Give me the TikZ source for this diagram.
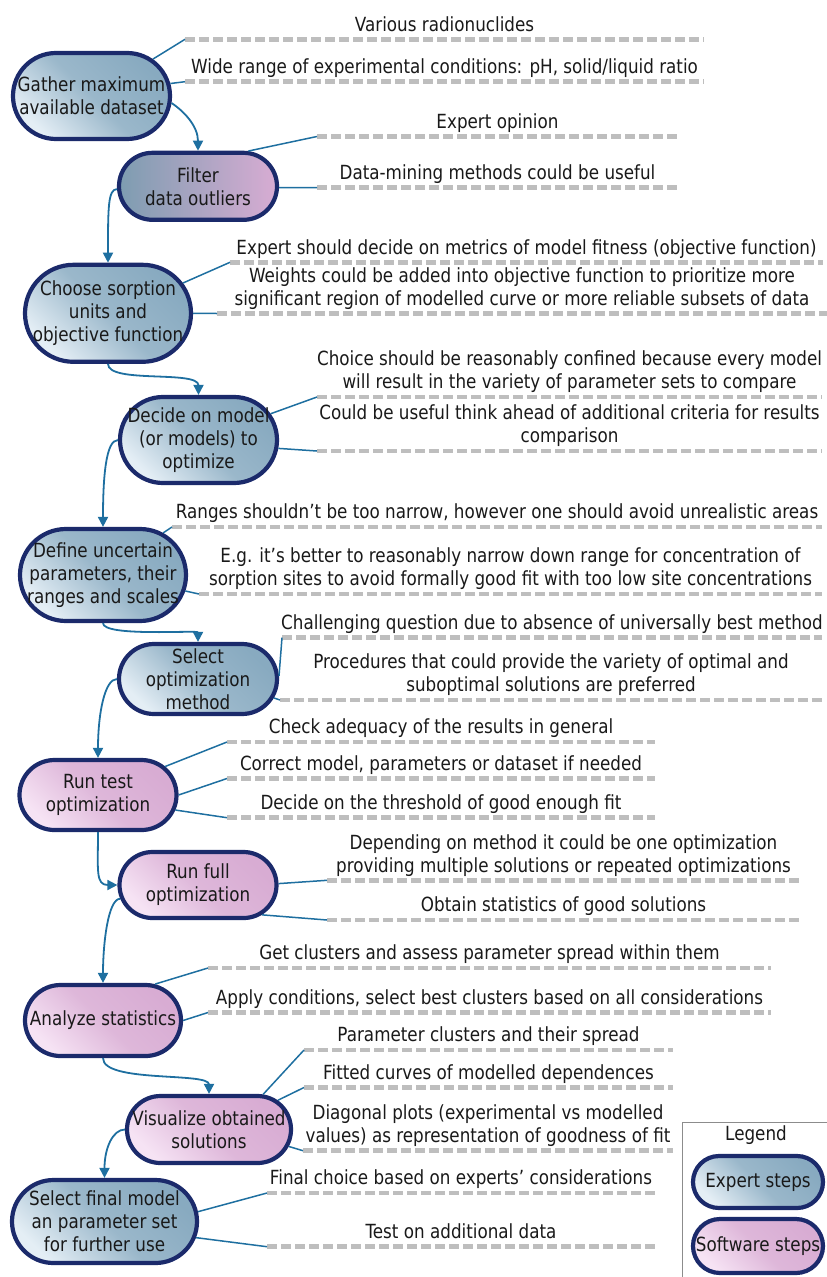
\documentclass[tikz,border=0pt]{standalone}
\usepackage{fontspec}
\setmainfont{DejaVu Sans}[FakeStretch=0.86]
\usetikzlibrary{shapes.misc,arrows.meta,calc}
\definecolor{navy}{HTML}{1B2A6B}
\definecolor{blueD}{HTML}{88AAC0}
\definecolor{blueL}{HTML}{E4EEF5}
\definecolor{pinkD}{HTML}{D8ACD3}
\definecolor{pinkL}{HTML}{F6E3F4}
\definecolor{flowc}{HTML}{1E6FA0}
\definecolor{dashgray}{HTML}{BEBEBE}
\definecolor{legendgray}{HTML}{8C8C8C}
\newcommand\noteline[5]{%
  \coordinate (#1a) at (#2,#4);
  \coordinate (#1b) at (#3,#4);
  \draw[dashline] (#1a) -- (#1b);
  \node[note] (#1t) at ($(#1a)!.5!(#1b)+(0,-8)$) {#5};
}
\begin{document}
\begin{tikzpicture}[x=1pt,y=-1pt,
  stepbox/.style={rounded rectangle, draw=navy, line width=4.2pt, inner sep=0pt},
  expert/.style={stepbox, top color=blueD, bottom color=blueL, middle color=blueD!80!blueL, shading angle=-45},
  software/.style={stepbox, top color=pinkD, bottom color=pinkL, middle color=pinkD!80!pinkL, shading angle=-45},
  mixed/.style={stepbox, left color=blueD!92!black, right color=pinkD},
  steptext/.style={align=center, inner sep=0pt, font=\fontsize{19.5}{23}\selectfont, text=black!90},
  note/.style={steptext, anchor=south, text depth=0pt},
  dashline/.style={draw=dashgray, line width=4.5pt, dash pattern=on 9.5pt off 4.5pt},
  conn/.style={draw=flowc, line width=1.5pt},
  flow/.style={draw=flowc, line width=1.8pt, -{Triangle[length=10pt,width=10pt]}}
]
\useasboundingbox (0,0) rectangle (827,1277);

% ---- step nodes ----
\node[expert, minimum width=157, minimum height=86] (n1) at (91.5,96) {};
\node[steptext] (n1t) at (n1.center) {Gather maximum\\available dataset};
\node[mixed, minimum width=158, minimum height=67] (n2) at (198,186.3) {};
\node[steptext] (n2t) at (n2.center) {Filter\\data outliers};
\node[expert, minimum width=166, minimum height=97] (n3) at (108,313.3) {};
\node[steptext] (n3t) at (n3.center) {Choose sorption\\units and\\objective function};
\node[expert, minimum width=157, minimum height=86] (n4) at (198.5,440) {};
\node[steptext] (n4t) at (n4.center) {Decide on model\\(or models) to\\optimize};
\node[expert, minimum width=166, minimum height=92] (n5) at (103,575) {};
\node[steptext] (n5t) at (n5.center) {Define uncertain\\parameters, their\\ranges and scales};
\node[expert, minimum width=158, minimum height=70] (n6) at (198,679) {};
\node[steptext] (n6t) at (n6.center) {Select\\optimization\\method};
\node[software, minimum width=157, minimum height=70] (n7) at (98,795) {};
\node[steptext] (n7t) at (n7.center) {Run test\\optimization};
\node[software, minimum width=157, minimum height=66] (n8) at (198,885) {};
\node[steptext] (n8t) at (n8.center) {Run full\\optimization};
\node[software, minimum width=156, minimum height=71] (n9) at (103,1020.5) {};
\node[steptext] (n9t) at (n9.center) {Analyze statistics};
\node[software, minimum width=164, minimum height=67] (n10) at (209,1129.5) {};
\node[steptext] (n10t) at (n10.center) {Visualize obtained\\solutions};
\node[expert, minimum width=185, minimum height=83] (n11) at (104.5,1221.5) {};
\node[steptext] (n11t) at (n11.center) {Select final model\\an parameter set\\for further use};

% ---- notes ----
\noteline{L1}{185}{704}{39.3}{Various radionuclides}
\noteline{L2}{185}{704}{81.7}{Wide range of experimental conditions: pH, solid/liquid ratio}
\noteline{L3}{317}{678}{136.5}{Expert opinion}
\noteline{L4}{317}{678}{187.7}{Data-mining methods could be useful}
\noteline{L5}{230}{823}{262.3}{Expert should decide on metrics of model fitness (objective function)}
\noteline{L6}{217}{827}{313.5}{Weights could be added into objective function to prioritize more\\significant region of modelled curve or more reliable subsets of data}
\noteline{L7}{317}{822}{397}{Choice should be reasonably confined because every model\\will result in the variety of parameter sets to compare}
\noteline{L8}{317}{822}{451}{Could be useful think ahead of additional criteria for results\\comparison}
\noteline{L9}{172}{822}{527}{Ranges shouldn’t be too narrow, however one should avoid unrealistic areas}
\noteline{L10}{199}{822}{594}{E.g. it’s better to reasonably narrow down range for concentration of\\sorption sites to avoid formally good fit with too low site concentrations}
\noteline{L11}{282}{822}{637.7}{Challenging question due to absence of universally best method}
\noteline{L12}{280}{822}{700}{Procedures that could provide the variety of optimal and\\suboptimal solutions are preferred}
\noteline{L13}{227}{655}{742}{Check adequacy of the results in general}
\noteline{L14}{227}{655}{778.5}{Correct model, parameters or dataset if needed}
\noteline{L15}{227}{655}{817.7}{Decide on the threshold of good enough fit}
\noteline{L16}{327}{800}{880.3}{Depending on method it could be one optimization\\providing multiple solutions or repeated optimizations}
\noteline{L17}{327}{800}{920}{Obtain statistics of good solutions}
\noteline{L18}{208}{771}{968}{Get clusters and assess parameter spread within them}
\noteline{L19}{208}{771}{1012.5}{Apply conditions, select best clusters based on all considerations}
\noteline{L20}{304}{673}{1050}{Parameter clusters and their spread}
\noteline{L21}{304}{673}{1087.5}{Fitted curves of modelled dependences}
\noteline{L22}{303}{673}{1150.7}{Diagonal plots (experimental vs modelled\\values) as representation of goodness of fit}
\noteline{L23}{267}{655}{1193}{Final choice based on experts’ considerations}
\noteline{L24}{267}{655}{1246.7}{Test on additional data}

% ---- connectors to notes ----
\draw[conn] (n1.31.5) -- (L1a);
\draw[conn] (n1.9) -- (L2a);
\draw[conn] (n2.35) -- (L3a);
\draw[conn] (n2.-1) -- (L4a);
\draw[conn] (n3.22) -- (L5a);
\draw[conn] (n3.0) -- (L6a);
\draw[conn] (n4.20) -- (L7a);
\draw[conn] (n4.-6) -- (L8a);
\draw[conn] (n5.35) -- (L9a);
\draw[conn] (n5.-11) -- (L10a);
\draw[conn] (n6.2) -- (L11a);
\draw[conn] (n6.-14) -- (L12a);
\draw[conn] (n7.23) -- (L13a);
\draw[conn] (n7.0) -- (L14a);
\draw[conn] (n7.-11) -- (L15a);
\draw[conn] (n8.1) -- (L16a);
\draw[conn] (n8.-25) -- (L17a);
\draw[conn] (n9.35) -- (L18a);
\draw[conn] (n9.0) -- (L19a);
\draw[conn] (n10.33) -- (L20a);
\draw[conn] (n10.23) -- (L21a);
\draw[conn] (n10.-12) -- (L22a);
\draw[conn] (n11.6) -- (L23a);
\draw[conn] (n11.-10) -- (L24a);

% ---- flow arrows ----
\draw[flow] (n1.-5) .. controls +(12,8) and +(0,-25) .. (n2.north);
\draw[flow] (n2.182) .. controls +(-9,0) and +(0,-55) .. (n3.north);
\draw[flow] (n3.south) .. controls +(0,20) and +(0,-25) .. (n4.north);
\draw[flow] (n4.west) .. controls +(-12,0) and +(0,-50) .. (n5.north);
\draw[flow] (n5.south) .. controls +(0,14) and +(0,-12) .. (n6.north);
\draw[flow] (n6.west) .. controls +(-12,0) and +(0,-45) .. (n7.north);
\draw[flow] (n7.south) .. controls +(0,38) and +(-22,0) .. (n8.west);
\draw[flow] (n8.190) .. controls +(-12,0) and +(0,-40) .. (n9.north);
\draw[flow] (n9.south) .. controls +(0,25) and +(0,-22) .. (n10.north);
\draw[flow] (n10.west) .. controls +(-12,0) and +(0,-30) .. (n11.north);

% ---- legend ----
\draw[draw=legendgray, line width=1.5pt] (682.5,1122.5) rectangle (835,1285);
\node[steptext] (lgt) at (756,1135) {Legend};
\node[expert, minimum width=130, minimum height=52] (lg1) at (758,1182) {};
\node[steptext] (lg1t) at (lg1.center) {Expert steps};
\node[software, minimum width=130, minimum height=54] (lg2) at (758,1246) {};
\node[steptext] (lg2t) at (lg2.center) {Software steps};
\end{tikzpicture}
\end{document}
